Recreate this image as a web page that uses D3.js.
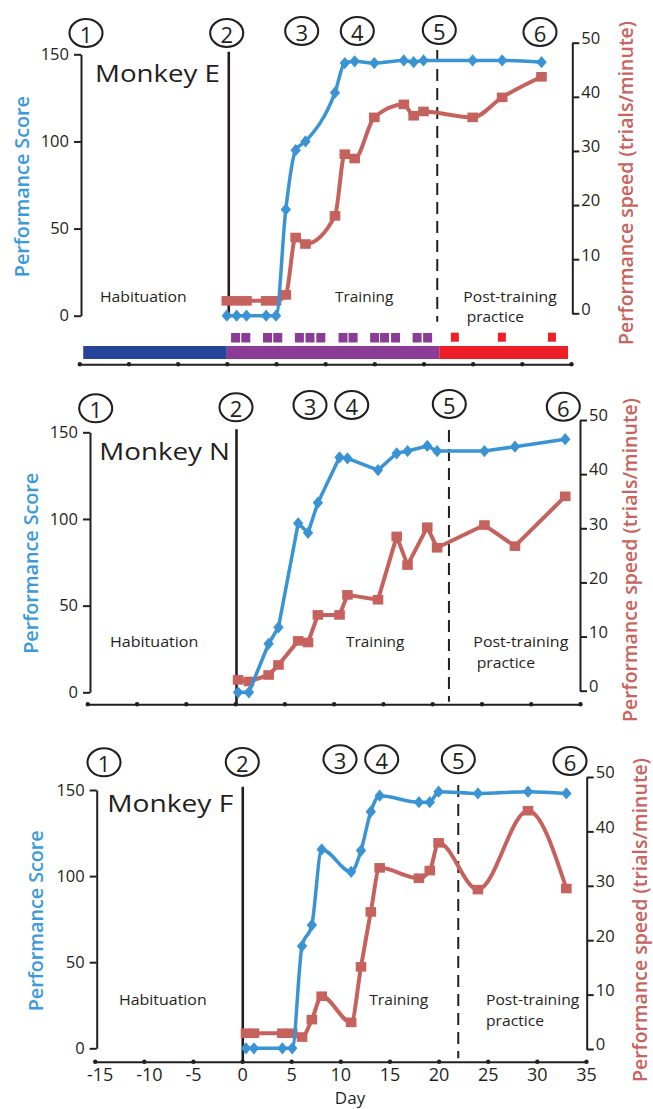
<!DOCTYPE html>
<html><head><meta charset="utf-8">
<script src="https://cdn.jsdelivr.net/npm/d3@7"></script>
<style>
html,body{margin:0;padding:0;background:#fff;}
svg{display:block;font-family:"Open Sans",sans-serif;}
</style></head><body>
<svg id="chart" width="653" height="1109"></svg>
<script>
// ---------- data ----------
const xTickValues = [-15,-10,-5,0,5,10,15,20,25,30,35];
const scoreTicks = [0,50,100,150];
const speedTicks = [0,10,20,30,40,50];
const stageLabels = ["1","2","3","4","5","6"];
const monkeyNames = ["Monkey E","Monkey N","Monkey F"];
const phaseNames = ["Habituation","Training","Post-training","practice"];
const leftTitle = "Performance Score";
const rightTitle = "Performance speed (trials/minute)";
const xTitle = "Day";

// Monkey E
const daysE  = [0,1,2,4,5,6,7,8,11,12,13,15,18,19,20,25,28,32];
const scoreE = [0,0,0,0,0,61,95,100,128,145,146,145,146.5,145.5,146.5,146.5,146.5,145.5];
const speedE = [2.3,2.3,2.3,2.3,2.3,3.4,14.0,12.8,18.0,29.4,28.6,36.2,38.6,36.5,37.3,36.2,39.9,43.7];
const phaseLineDaysE = [0.2, 21.4];
// Monkey N
const daysN  = [0.3,1.4,3.4,4.4,6.4,7.4,8.4,10.6,11.4,14.5,16.4,17.5,19.5,20.5,25.3,28.4,33.5];
const scoreN = [0,0,28,37.5,97.5,92,109.4,135.6,135,128.2,137.9,139.2,142.1,139.2,139.2,141.7,146];
const speedN = [2.0,1.7,2.9,4.75,9.2,8.9,14.0,14.0,17.7,16.8,28.5,23.2,30.2,26.4,30.6,26.7,35.9];
const phaseLineDaysN = [0.14, 21.7];
// Monkey F
const daysF  = [0.4,1.2,4.1,5.1,6.1,7.1,8.1,11.1,12.1,13.1,14,18,19.1,20,24,29.1,33];
const scoreF = [0,0,0,0,59.4,71.6,115.5,102.5,114.8,137.4,146.7,142.9,142.9,149,148,149,148];
const speedF = [2.9,2.9,2.9,2.9,2.2,5.4,9.7,4.9,15.1,25.2,33.3,31.4,32.8,37.9,29.3,43.8,29.5];
const phaseLineDaysF = [0.07, 22.0];

// Monkey E session schedule bar
const trainingSessionDays = [0.89,1.93,4.14,5.18,7.38,8.46,9.56,11.82,12.84,15.03,16.04,17.16,19.35,20.42];
const practiceSessionDays = [23.19,27.97,33.06];
const phaseBarStart = [-14.6, 0, 21.6];
const phaseBarEnd   = [0, 21.6, 34.7];

// ---------- styles ----------
const INK = "#231f20";
const BLUE = "#3a94d4";
const RED = "#c6625d";
const BLUE_T = "#3b9ad9";
const RED_T = "#c8635e";
const barColors = ["#26459a", "#8b3c96", "#ee1f27"];

// ---------- layout ----------
const panels = [
  {name: monkeyNames[0], days: daysE, score: scoreE, speed: speedE, lines: phaseLineDaysE, curve: d3.curveMonotoneX,
   xr:[79.3,571], axisY:364.3, leftX:81, rightX:572.3, yl:[315.7,54.3], yr:[313.3,42.7],
   solidY:[51.7,315], dashY:[50,321.7],
   circles:[[86,33],[226.7,33],[301.7,31],[357.3,31],[439.3,30],[540,32]],
   nameT:[95,81.7,125], hab:[100,301.7,86.7], train:[335,301.7,58.3], post:[463.3,301.7,93.4], prac:[466.7,321.7,57.3],
   lt:[21.7,186.7], rt:[626,183], xLabels:false, bar:true},
  {name: monkeyNames[1], days: daysN, score: scoreN, speed: speedN, lines: phaseLineDaysN, curve: d3.curveLinear,
   xr:[87.3,580], axisY:704.3, leftX:90, rightX:580, yl:[692.3,432.3], yr:[690.7,420],
   solidY:[429.3,704], dashY:[430,701.7],
   circles:[[95.7,408.3],[236,407.3],[310,405],[351.7,405],[449.3,404],[563.3,406.7]],
   nameT:[99.3,460,130.7], hab:[110,646.7,88.3], train:[346,646.7,58.3], post:[473.3,646.7,95], prac:[476.7,667.7,58.3],
   lt:[30,563.3], rt:[630,560], xLabels:false, bar:false},
  {name: monkeyNames[2], days: daysF, score: scoreF, speed: speedF, lines: phaseLineDaysF, curve: d3.curveMonotoneX,
   xr:[94.7,586], axisY:1061.7, leftX:96.7, rightX:586.7, yl:[1048.3,790], yr:[1049,777],
   solidY:[786.7,1061], dashY:[785,1058.3],
   circles:[[104,762.3],[242.3,762],[340,759.3],[381.7,759.3],[458.3,759.3],[570,761]],
   nameT:[107.3,811.7,126], hab:[119,1005,87.7], train:[369.3,1005,59], post:[486,1005,93.3], prac:[486,1026,58],
   lt:[35,920.8], rt:[640,920], xLabels:true, bar:false, dayT:[350,1104]}
];

const svg = d3.select("#chart");

function txt(g, s, p, size, opts={}) {
  const t = g.append("text").attr("x", p[0]).attr("y", p[1]).text(s)
    .attr("font-size", size).attr("fill", opts.fill || INK);
  if (p[2]) t.attr("textLength", p[2]).attr("lengthAdjust", "spacingAndGlyphs");
  return t;
}

panels.forEach(P => {
  const g = svg.append("g");
  const x = d3.scaleLinear().domain([-15,35]).range(P.xr);
  const yL = d3.scaleLinear().domain([0,150]).range(P.yl);
  const yR = d3.scaleLinear().domain([0,50]).range(P.yr);

  // x axis
  const xa = g.append("g").attr("transform", `translate(0,${P.axisY})`)
    .call(d3.axisBottom(x).tickValues(xTickValues).tickSize(0).tickSizeOuter(0).tickPadding(7)
      .tickFormat(d => P.xLabels ? String(d) : ""));
  xa.select(".domain").attr("stroke", INK).attr("stroke-width", 2);
  xa.selectAll(".tick text").attr("font-size", 18).attr("fill", INK).attr("font-family", "Open Sans")
    .attr("dx", d => (d <= -10 ? 5 : 0));
  xa.selectAll(".tick").append("circle").attr("r", 2.2).attr("fill", INK);

  // left axis
  const la = g.append("g").attr("transform", `translate(${P.leftX},0)`)
    .call(d3.axisLeft(yL).tickValues(scoreTicks).tickSize(7).tickSizeOuter(0).tickPadding(5));
  la.select(".domain").attr("stroke", INK).attr("stroke-width", 2);
  la.selectAll(".tick line").attr("stroke", INK).attr("stroke-width", 2);
  la.selectAll(".tick text").attr("font-size", 16.5).attr("fill", INK).attr("font-family", "Open Sans");

  // right axis
  const ra = g.append("g").attr("transform", `translate(${P.rightX},0)`)
    .call(d3.axisRight(yR).tickValues(speedTicks).tickSize(7).tickSizeOuter(0).tickPadding(2));
  ra.select(".domain").attr("stroke", INK).attr("stroke-width", 2);
  ra.selectAll(".tick line").attr("stroke", INK).attr("stroke-width", 2);
  ra.selectAll(".tick text").attr("font-size", 16.5).attr("fill", INK).attr("font-family", "Open Sans").attr("dy", "0.05em");

  // phase lines
  g.append("line").attr("x1", x(P.lines[0])).attr("x2", x(P.lines[0]))
    .attr("y1", P.solidY[0]).attr("y2", P.solidY[1]).attr("stroke", INK).attr("stroke-width", 2.6);
  g.append("line").attr("x1", x(P.lines[1])).attr("x2", x(P.lines[1]))
    .attr("y1", P.dashY[0]).attr("y2", P.dashY[1]).attr("stroke", INK).attr("stroke-width", 2)
    .attr("stroke-dasharray", "12,7");

  // stage circles
  P.circles.forEach((c, i) => {
    g.append("ellipse").attr("cx", c[0]).attr("cy", c[1]).attr("rx", 16.5).attr("ry", 14)
      .attr("fill", "none").attr("stroke", INK).attr("stroke-width", 2.1);
    g.append("text").attr("x", c[0]).attr("y", c[1] + 1).attr("text-anchor", "middle")
      .attr("dominant-baseline", "central").attr("font-size", 22).attr("fill", INK).text(stageLabels[i]);
  });

  // texts
  txt(g, P.name, P.nameT, 24);
  txt(g, phaseNames[0], P.hab, 15);
  txt(g, phaseNames[1], P.train, 15);
  txt(g, phaseNames[2], P.post, 15);
  txt(g, phaseNames[3], P.prac, 15);

  g.append("text").attr("transform", `translate(${P.lt[0]},${P.lt[1]}) rotate(-90)`)
    .attr("text-anchor", "middle").attr("dominant-baseline", "central")
    .attr("font-size", 19.5).attr("font-weight", 600).attr("fill", BLUE_T)
    .attr("textLength", 181).attr("lengthAdjust", "spacingAndGlyphs").text(leftTitle);
  g.append("text").attr("transform", `translate(${P.rt[0]},${P.rt[1]}) rotate(-90)`)
    .attr("text-anchor", "middle").attr("dominant-baseline", "central")
    .attr("font-size", 19).attr("font-weight", 600).attr("fill", RED_T)
    .attr("textLength", 324).attr("lengthAdjust", "spacingAndGlyphs").text(rightTitle);

  if (P.dayT) {
    g.append("text").attr("x", P.dayT[0]).attr("y", P.dayT[1]).attr("text-anchor", "middle")
      .attr("font-size", 17).attr("fill", INK).text(xTitle);
  }

  // series
  const idx = d3.range(P.days.length);
  const speedLine = d3.line().x(i => x(P.days[i])).y(i => yR(P.speed[i])).curve(P.curve);
  const scoreLine = d3.line().x(i => x(P.days[i])).y(i => yL(P.score[i])).curve(P.curve);

  g.append("path").attr("d", speedLine(idx)).attr("fill", "none").attr("stroke", RED)
    .attr("stroke-width", 4).attr("stroke-linejoin", "round");
  g.selectAll(".sq").data(idx).enter().append("rect")
    .attr("x", i => x(P.days[i]) - 5.3).attr("y", i => yR(P.speed[i]) - 4.8)
    .attr("width", 10.6).attr("height", 9.6).attr("fill", RED);

  g.append("path").attr("d", scoreLine(idx)).attr("fill", "none").attr("stroke", BLUE)
    .attr("stroke-width", 3.5).attr("stroke-linejoin", "round");
  g.selectAll(".dm").data(idx).enter().append("path")
    .attr("d", d3.symbol().type(d3.symbolDiamond).size(60))
    .attr("transform", i => `translate(${x(P.days[i])},${yL(P.score[i])}) scale(1.25,0.85)`)
    .attr("fill", BLUE);

  // schedule bar
  if (P.bar) {
    phaseBarStart.forEach((s, i) => {
      g.append("rect").attr("x", x(s)).attr("y", 346).attr("width", x(phaseBarEnd[i]) - x(s))
        .attr("height", 13).attr("fill", barColors[i]);
    });
    g.selectAll(".ts").data(trainingSessionDays).enter().append("rect")
      .attr("x", d => x(d) - 4.5).attr("y", 333).attr("width", 9).attr("height", 9.5).attr("fill", barColors[1]);
    g.selectAll(".ps").data(practiceSessionDays).enter().append("rect")
      .attr("x", d => x(d) - 4).attr("y", 332.7).attr("width", 8).attr("height", 9).attr("fill", barColors[2]);
  }
});
</script>
</body></html>
